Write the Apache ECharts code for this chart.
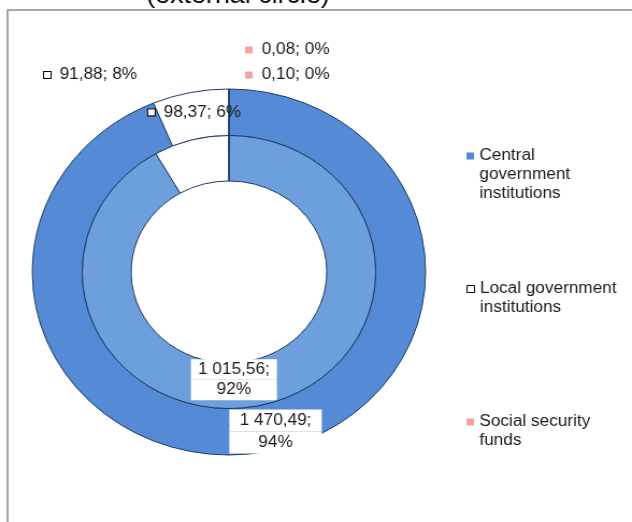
<!DOCTYPE html>
<html>
<head>
<meta charset="utf-8">
<script src="https://cdn.jsdelivr.net/npm/echarts@6/dist/echarts.min.js"></script>
<style>
  html, body { margin: 0; padding: 0; background: #fff; overflow: hidden; }
  /* the reference picture is stretched a little horizontally */
  #main { width: 588px; height: 522px; transform: scaleX(1.0748); transform-origin: 0 0; }
</style>
</head>
<body>
<div id="main"></div>
<script>
var categories = ['Central government institutions', 'Local government institutions', 'Social security funds'];
var outerValues = [1470.49, 98.37, 0.08];
var innerValues = [1015.56, 91.88, 0.10];
var legendLines = [
    ['Central', 'government', 'institutions'],
    ['Local government', 'institutions'],
    ['Social security', 'funds']
];

var outerColors = ['#558bd6', '#ffffff', '#f4a3a3'];
var innerColors = ['#6c9fdc', '#ffffff', '#f4a3a3'];
var FONT = 'Liberation Sans, Arial, sans-serif';

var myChart = echarts.init(document.getElementById('main'));

function fmt(v) {
    var p = v.toFixed(2).split('.');
    return p[0].replace(/\B(?=(\d{3})+(?!\d))/g, ' ') + ',' + p[1];
}

function buildData(values, colors) {
    return values.map(function (v, i) {
        return { name: categories[i], value: v, itemStyle: { color: colors[i] } };
    });
}

function richFor(colors, boxWidth, lineH) {
    return {
        k0: { width: 7, height: 7, backgroundColor: colors[0] },
        k1: { width: 6, height: 6, backgroundColor: '#fff', borderColor: '#000', borderWidth: 1 },
        k2: { width: 7, height: 7, backgroundColor: colors[2] },
        g: { width: 4 },
        sp: { width: 11 },
        b: {
            width: boxWidth, height: lineH, lineHeight: lineH, align: 'center', backgroundColor: '#fff',
            fontSize: 16, fontFamily: FONT, color: '#1a1a1a'
        }
    };
}

function labelText(p) {
    var txt = fmt(p.value) + ';';
    var pct = Math.round(p.percent) + '%';
    if (p.dataIndex === 0) {
        return '{k0|}{g|}{b|' + txt + '}\n{sp|}{b|' + pct + '}';
    }
    return '{k' + p.dataIndex + '|}{g|} ' + txt + ' ' + pct;
}

var pieBase = {
    type: 'pie',
    center: [213, 272],
    startAngle: 90,
    clockwise: true,
    avoidLabelOverlap: false,
    animation: false,
    emphasis: { disabled: true },
    itemStyle: { borderColor: '#1f3a66', borderWidth: 1 },
    labelLine: { show: false }
};

var legendTops = [108.5, 260.5, 393.5];
var legendIcons = [
    { color: outerColors[0], borderWidth: 0 },
    { color: '#fff', borderColor: '#000', borderWidth: 1 },
    { color: outerColors[2], borderWidth: 0 }
];

option = {
    title: {
        text: '(external circle)',
        left: 131,
        top: -21,
        textStyle: { fontSize: 25, fontWeight: 'normal', color: '#000', fontFamily: FONT }
    },
    graphic: [{
        type: 'rect',
        silent: true,
        shape: { x: 7, y: 10, width: 700, height: 600 },
        style: { fill: 'none', stroke: '#8c8c8c', lineWidth: 1.6 }
    }],
    legend: categories.map(function (name, i) {
        return {
            data: [{ name: name, icon: 'rect', itemStyle: legendIcons[i] }],
            left: 434,
            top: legendTops[i],
            padding: 0,
            itemWidth: 7,
            itemHeight: 7,
            selectedMode: false,
            formatter: function () {
                var lines = legendLines[i];
                // leading blank lines keep the key square beside the first line
                return new Array(lines.length).join('\n') + lines.join('\n');
            },
            textStyle: { fontSize: 16, lineHeight: 19, fontFamily: FONT, color: '#1a1a1a' }
        };
    }),
    series: [
        Object.assign({}, pieBase, {
            name: 'external',
            radius: [136.5, 183],
            data: buildData(outerValues, outerColors),
            label: {
                show: true,
                position: 'inside',
                formatter: labelText,
                fontSize: 16,
                fontFamily: FONT,
                color: '#1a1a1a',
                rich: richFor(outerColors, 86, 22)
            },
            labelLayout: function (p) {
                if (p.dataIndex === 0) return { dx: 6 };
                if (p.dataIndex === 2) return { x: 228, y: 50, align: 'left', verticalAlign: 'middle' };
                return {};
            }
        }),
        Object.assign({}, pieBase, {
            name: 'internal',
            radius: [91, 136.5],
            data: buildData(innerValues, innerColors),
            label: {
                show: true,
                position: 'inside',
                formatter: labelText,
                fontSize: 16,
                fontFamily: FONT,
                color: '#1a1a1a',
                rich: richFor(innerColors, 80, 20.5)
            },
            labelLayout: function (p) {
                if (p.dataIndex === 0) return { dx: -31, dy: -5 };
                if (p.dataIndex === 1) return { x: 41, y: 75, align: 'left', verticalAlign: 'middle' };
                if (p.dataIndex === 2) return { x: 228, y: 75, align: 'left', verticalAlign: 'middle' };
                return {};
            }
        })
    ]
};

myChart.setOption(option);

window.addEventListener('resize', function () {
    myChart.resize();
});
</script>
</body>
</html>
